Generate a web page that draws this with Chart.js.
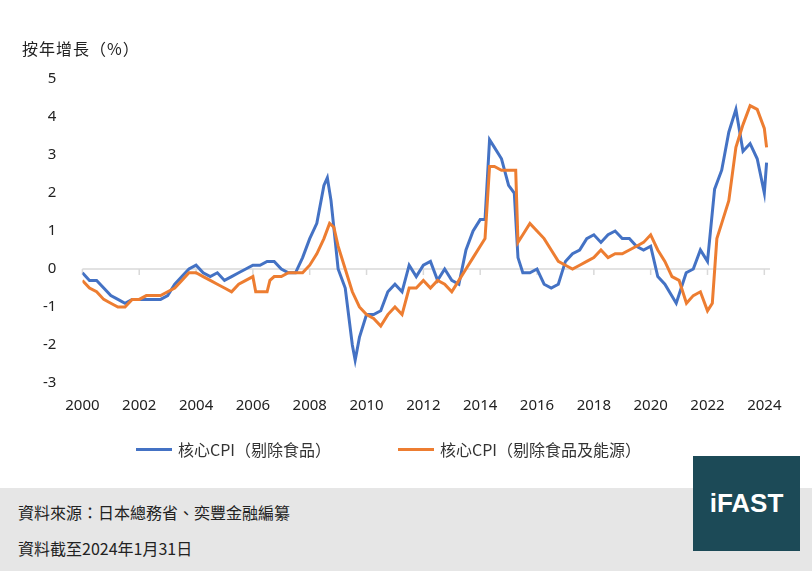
<!DOCTYPE html>
<html><head><meta charset="utf-8">
<script src="https://cdn.jsdelivr.net/npm/chart.js@4"></script>
<style>
body{margin:0;width:812px;height:571px;background:#fff;font-family:"Noto Sans CJK TC","Noto Sans",sans-serif;position:relative;overflow:hidden}
#c{position:absolute;left:0;top:0}
.yt{position:absolute;left:22px;top:36px;font-size:16px;color:#222;letter-spacing:1px}
.legend{position:absolute;top:437px;font-size:16px;color:#333;display:flex;align-items:center}
.legend i{display:inline-block;width:36px;height:3px;margin-right:6px}
.foot{position:absolute;left:0;top:488px;width:812px;height:83px;background:#e6e6e6}
.foot div{position:absolute;left:18px;font-size:16px;color:#222}
.logo{position:absolute;left:693px;top:456px;width:107px;height:95px;background:#1c4a57;color:#fff;font:bold 26px "Liberation Sans",Arial,sans-serif;display:flex;align-items:center;justify-content:center}
</style></head><body>
<canvas id="c" width="812" height="440"></canvas>
<div class="yt">按年增長（%）</div>
<div class="legend" style="left:136px"><i style="background:#4472c4"></i>核心CPI（剔除食品）</div>
<div class="legend" style="left:398px"><i style="background:#ed7d31"></i>核心CPI（剔除食品及能源）</div>
<div class="foot"><div style="top:12px">資料來源：日本總務省、奕豐金融編纂</div><div style="top:48px">資料截至2024年1月31日</div></div>
<div class="logo">iFAST</div>
<script>
// 年份(小數) 與數值
const coreX = [2000,2000.25,2000.5,2000.75,2001,2001.25,2001.5,2001.75,2002,2002.25,2002.5,2002.75,2003,2003.25,2003.5,2003.75,2004,2004.25,2004.5,2004.75,2005,2005.25,2005.5,2005.75,2006,2006.25,2006.5,2006.75,2007,2007.25,2007.5,2007.75,2008,2008.25,2008.5,2008.62,2008.75,2009,2009.25,2009.5,2009.6,2009.75,2010,2010.25,2010.5,2010.75,2011,2011.25,2011.5,2011.75,2012,2012.25,2012.5,2012.75,2013,2013.25,2013.5,2013.75,2014,2014.17,2014.33,2014.5,2014.75,2015,2015.2,2015.33,2015.5,2015.75,2016,2016.25,2016.5,2016.75,2017,2017.25,2017.5,2017.75,2018,2018.25,2018.5,2018.75,2019,2019.25,2019.5,2019.75,2020,2020.25,2020.5,2020.9,2021.25,2021.5,2021.75,2022,2022.25,2022.5,2022.75,2023,2023.25,2023.5,2023.75,2024,2024.08];
const coreY = [-0.1,-0.3,-0.3,-0.5,-0.7,-0.8,-0.9,-0.8,-0.8,-0.8,-0.8,-0.8,-0.7,-0.4,-0.2,0.0,0.1,-0.1,-0.2,-0.1,-0.3,-0.2,-0.1,0.0,0.1,0.1,0.2,0.2,0.0,-0.1,-0.1,0.3,0.8,1.2,2.2,2.4,1.8,0.0,-0.5,-2.0,-2.4,-1.8,-1.2,-1.2,-1.1,-0.6,-0.4,-0.6,0.1,-0.2,0.1,0.2,-0.3,0.0,-0.3,-0.4,0.5,1.0,1.3,1.3,3.4,3.2,2.9,2.2,2.0,0.3,-0.1,-0.1,0.0,-0.4,-0.5,-0.4,0.2,0.4,0.5,0.8,0.9,0.7,0.9,1.0,0.8,0.8,0.6,0.5,0.6,-0.2,-0.4,-0.9,-0.1,0.0,0.5,0.2,2.1,2.6,3.6,4.2,3.1,3.3,2.9,2.0,2.8];
const ccX = [2000,2000.25,2000.5,2000.75,2001,2001.25,2001.5,2001.75,2002,2002.25,2002.5,2002.75,2003,2003.25,2003.5,2003.75,2004,2004.25,2004.5,2004.75,2005,2005.25,2005.5,2005.75,2006,2006.1,2006.25,2006.5,2006.6,2006.75,2007,2007.25,2007.5,2007.75,2008,2008.25,2008.5,2008.7,2008.85,2009,2009.25,2009.5,2009.75,2010,2010.25,2010.5,2010.75,2011,2011.25,2011.5,2011.75,2012,2012.25,2012.5,2012.75,2013,2013.25,2013.5,2013.75,2014,2014.17,2014.33,2014.5,2014.75,2015,2015.25,2015.33,2015.5,2015.75,2016,2016.25,2016.5,2016.75,2017,2017.25,2017.5,2017.75,2018,2018.25,2018.5,2018.75,2019,2019.25,2019.5,2019.75,2020,2020.25,2020.5,2020.75,2021,2021.26,2021.5,2021.75,2022,2022.17,2022.33,2022.5,2022.75,2023,2023.25,2023.5,2023.75,2024,2024.08];
const ccY = [-0.3,-0.5,-0.6,-0.8,-0.9,-1.0,-1.0,-0.8,-0.8,-0.7,-0.7,-0.7,-0.6,-0.5,-0.3,-0.1,-0.1,-0.2,-0.3,-0.4,-0.5,-0.6,-0.4,-0.3,-0.2,-0.6,-0.6,-0.6,-0.3,-0.2,-0.2,-0.1,-0.1,-0.1,0.1,0.4,0.8,1.2,1.1,0.6,0.0,-0.6,-1.0,-1.2,-1.3,-1.5,-1.2,-1.0,-1.2,-0.5,-0.5,-0.3,-0.5,-0.3,-0.4,-0.6,-0.3,0.0,0.3,0.6,0.8,2.7,2.7,2.6,2.6,2.6,0.7,0.9,1.2,1.0,0.8,0.5,0.2,0.1,0.0,0.1,0.2,0.3,0.5,0.3,0.4,0.4,0.5,0.6,0.7,0.9,0.5,0.2,-0.2,-0.3,-0.9,-0.7,-0.6,-1.1,-0.9,0.8,1.2,1.8,3.2,3.8,4.3,4.2,3.7,3.2];
const yTicks = [-3,-2,-1,0,1,2,3,4,5];
const xTicks = [2000,2002,2004,2006,2008,2010,2012,2014,2016,2018,2020,2022,2024];

const pts = (xs, ys) => xs.map((x, i) => ({x: x, y: ys[i]}));
new Chart(document.getElementById('c'), {
  type: 'line',
  data: {datasets: [
    {label: '核心CPI（剔除食品及能源）', data: pts(ccX, ccY), borderColor: '#ed7d31', borderWidth: 3, pointRadius: 0, tension: 0},
    {label: '核心CPI（剔除食品）', data: pts(coreX, coreY), borderColor: '#4472c4', borderWidth: 3, pointRadius: 0, tension: 0}
  ]},
  options: {
    responsive: false, animation: false, devicePixelRatio: 1,
    layout: {padding: {left: 25, right: 42, top: 79, bottom: 19}},
    plugins: {legend: {display: false}, tooltip: {enabled: false}},
    scales: {
      x: {type: 'linear', min: 2000, max: 2024.2,
        afterBuildTicks: s => { s.ticks = xTicks.map(v => ({value: v})); },
        grid: {display: false}, border: {display: false},
        ticks: {color: '#222', font: {size: 15, family: 'Noto Sans'}, maxRotation: 0, autoSkip: false, padding: 6, callback: v => v}},
      y: {min: -3, max: 5,
        afterBuildTicks: s => { s.ticks = yTicks.map(v => ({value: v})); },
        grid: {display: false}, border: {display: false},
        ticks: {color: '#222', font: {size: 15, family: 'Noto Sans'}, autoSkip: false, padding: 18}}
    }
  },
  plugins: [{id: 'zero', beforeDatasetsDraw(ch) {
    const c = ch.ctx, y = ch.scales.y.getPixelForValue(0), xs = ch.scales.x;
    c.save(); c.strokeStyle = '#d9d9d9'; c.lineWidth = 1.5;
    c.beginPath(); c.moveTo(xs.left, y); c.lineTo(xs.right, y); c.stroke();
    xTicks.forEach(v => { const px = xs.getPixelForValue(v); c.beginPath(); c.moveTo(px, y); c.lineTo(px, y + 6); c.stroke(); });
    c.restore();
  }}]
});
</script>
</body></html>
